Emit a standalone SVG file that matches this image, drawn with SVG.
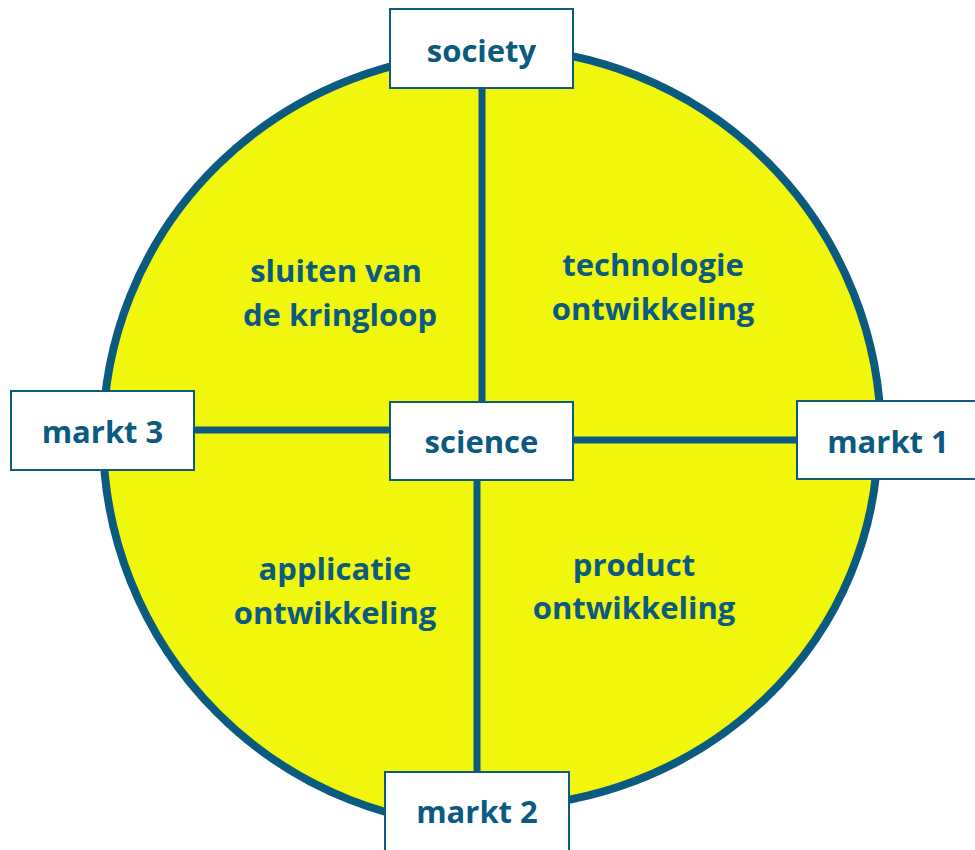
<svg xmlns="http://www.w3.org/2000/svg" width="975" height="850" viewBox="0 0 975 850">
<style>
.box{fill:#ffffff;stroke:#0b5a80;stroke-width:2}
.lbl{font-family:"Open Sans","Liberation Sans",sans-serif;font-weight:700;font-size:31px;fill:#0b5a80;text-anchor:middle}
.conn{stroke:#0b5a80;stroke-width:7;fill:none}
</style>
<rect width="975" height="850" fill="#ffffff"/>
<g id="circle">
<path d="M 103 437 A 390 384 0 0 1 493 53 L 493 48 A 388 389 0 0 1 881 437 L 878 437 A 385 370 0 0 1 493 807 L 493 827 A 390 390 0 0 1 103 437 Z" fill="#f0f60c" stroke="#0b5a80" stroke-width="8" stroke-linejoin="round"/>
</g>
<g id="connectors">
<line class="conn" x1="482" y1="88" x2="482" y2="402"/>
<line class="conn" x1="477" y1="480" x2="477" y2="772"/>
<line class="conn" x1="194" y1="430" x2="390" y2="430"/>
<line class="conn" x1="573" y1="440" x2="797" y2="440"/>
</g>
<g id="quadrants">
<text class="lbl" x="336" y="282">sluiten van</text>
<text class="lbl" x="340" y="326">de kringloop</text>
<text class="lbl" x="653" y="276">technologie</text>
<text class="lbl" x="653" y="320">ontwikkeling</text>
<text class="lbl" x="335" y="580">applicatie</text>
<text class="lbl" x="335" y="624">ontwikkeling</text>
<text class="lbl" x="634" y="576">product</text>
<text class="lbl" x="634" y="619">ontwikkeling</text>
</g>
<g id="society">
<rect class="box" x="390" y="9" width="183" height="79"/>
<text class="lbl" x="481.5" y="62">society</text>
</g>
<g id="science">
<rect class="box" x="390" y="402" width="183" height="78"/>
<text class="lbl" x="481.5" y="453">science</text>
</g>
<g id="markt3">
<rect class="box" x="11" y="391" width="183" height="79"/>
<text class="lbl" x="102.5" y="443">markt 3</text>
</g>
<g id="markt1">
<rect class="box" x="797" y="401" width="183" height="78"/>
<text class="lbl" x="888" y="453">markt 1</text>
</g>
<g id="markt2">
<rect class="box" x="385" y="772" width="184" height="80"/>
<text class="lbl" x="477" y="823">markt 2</text>
</g>
</svg>
